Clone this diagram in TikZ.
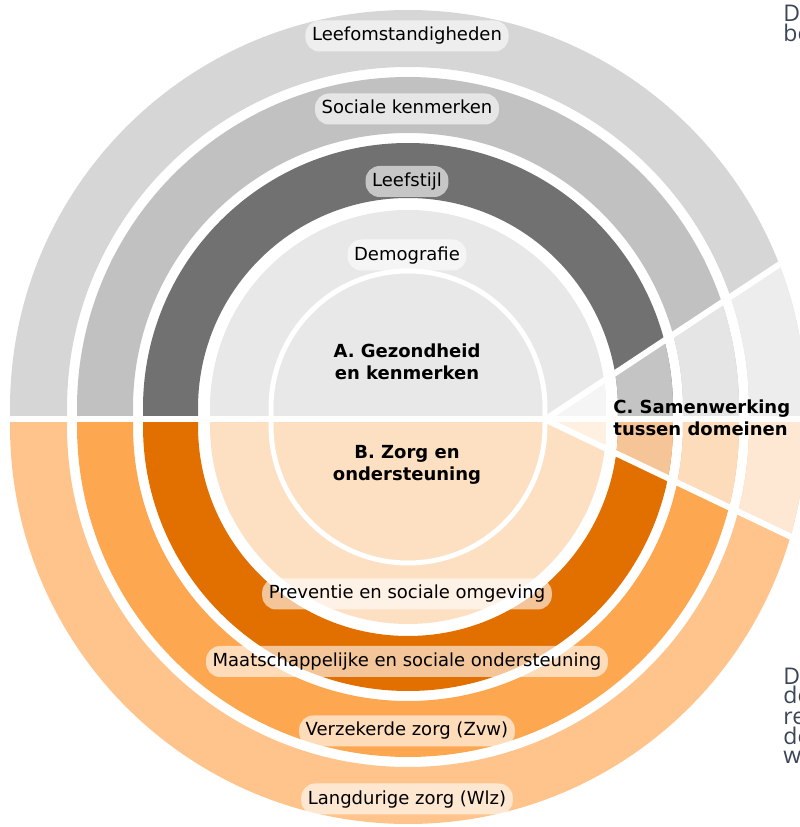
\documentclass[tikz,border=0pt]{standalone}
\usepackage{fontspec}
\setmainfont{DejaVu Sans}
\newfontfamily\sidefont{Open Sans}
\usepackage{xcolor}
% ring colours, normal and inside the C wedge
\definecolor{grayA}{HTML}{D6D6D6}
\definecolor{grayB}{HTML}{C1C1C1}
\definecolor{grayC}{HTML}{717171}
\definecolor{grayD}{HTML}{E8E8E8}
\definecolor{grayAl}{HTML}{EDEDED}
\definecolor{grayBl}{HTML}{E5E5E5}
\definecolor{grayCl}{HTML}{C4C4C4}
\definecolor{grayDl}{HTML}{F5F5F5}
\definecolor{oranA}{HTML}{FEC48C}
\definecolor{oranB}{HTML}{FDA751}
\definecolor{oranC}{HTML}{E27000}
\definecolor{oranD}{HTML}{FDDFC2}
\definecolor{oranAl}{HTML}{FEE8D3}
\definecolor{oranBl}{HTML}{FDDCBC}
\definecolor{oranCl}{HTML}{F5C597}
\definecolor{oranDl}{HTML}{FFF0E2}
\definecolor{sidegray}{HTML}{3B4556}
\tikzset{
    lbl/.style={fill=white, fill opacity=0.6, text opacity=1, rounded corners=7pt,
        inner xsep=3.3pt, inner ysep=0pt, minimum height=15.5pt,
        text height=7pt, text depth=2pt, font=\fontsize{9}{11}\selectfont},
    head/.style={font=\fontsize{9}{11}\selectfont\bfseries, align=center},
    side/.style={font=\sidefont\fontsize{11.5}{10}\selectfont, text=sidegray, align=left, inner sep=0pt},
    gap/.style={white, line width=3pt},
}

\begin{document}
\begin{tikzpicture}[x=0.5pt,y=0.5pt]
    \useasboundingbox (0,0) rectangle (800,827);
    \def\ra{398} \def\rb{341}
    \def\rc{331} \def\rd{275}
    \def\re{265} \def\rf{210}
    \def\rg{198} \def\rh{137}
    \coordinate (CU) at (408,419);
    \coordinate (CL) at (408,401);
    \coordinate (T) at (545,407.5);

    % upper half: A
    \begin{scope}
        \clip (0,411) rectangle (800,827);
        \fill[grayA, even odd rule] (CU) circle (\ra) (CU) circle (\rb);
        \fill[grayB, even odd rule] (CU) circle (\rc) (CU) circle (\rd);
        \fill[grayC, even odd rule] (CU) circle (\re) (CU) circle (\rf);
        \fill[grayD] (CU) circle (\rg);
        \begin{scope}
            \clip (T) -- +(33.5:700) -- +(-25.5:700) -- cycle;
            \fill[grayAl, even odd rule] (CU) circle (\ra) (CU) circle (\rb);
            \fill[grayBl, even odd rule] (CU) circle (\rc) (CU) circle (\rd);
            \fill[grayCl, even odd rule] (CU) circle (\re) (CU) circle (\rf);
            \fill[grayDl, even odd rule] (CU) circle (\rg) (CU) circle (\rh);
        \end{scope}
        \draw[white, line width=2.5pt] (CU) circle (\rh);
    \end{scope}

    % lower half: B
    \begin{scope}
        \clip (0,0) rectangle (800,404);
        \fill[oranA, even odd rule] (CL) circle (\ra) (CL) circle (\rb);
        \fill[oranB, even odd rule] (CL) circle (\rc) (CL) circle (\rd);
        \fill[oranC, even odd rule] (CL) circle (\re) (CL) circle (\rf);
        \fill[oranD] (CL) circle (\rg);
        \begin{scope}
            \clip (T) -- +(33.5:700) -- +(-25.5:700) -- cycle;
            \fill[oranAl, even odd rule] (CL) circle (\ra) (CL) circle (\rb);
            \fill[oranBl, even odd rule] (CL) circle (\rc) (CL) circle (\rd);
            \fill[oranCl, even odd rule] (CL) circle (\re) (CL) circle (\rf);
            \fill[oranDl, even odd rule] (CL) circle (\rg) (CL) circle (\rh);
        \end{scope}
        \draw[white, line width=2.5pt] (CL) circle (\rh);
    \end{scope}

    % wedge C
    \draw[gap] (T) -- +(33.5:330);
    \draw[gap] (T) -- +(-25.5:330);

    \node[lbl] at (407,791) (leef) {Leefomstandigheden};
    \node[lbl] at (407,718) (soc) {Sociale kenmerken};
    \node[lbl] at (407,645.5) (stijl) {Leefstijl};
    \node[lbl] at (407,572) (demo) {Demografie};
    \node[head] at (407,465) (gez) {A. Gezondheid\\en kenmerken};
    \node[head] at (407,362.5) (zorg) {B. Zorg en\\ondersteuning};
    \node[head, align=left, anchor=west, inner xsep=0pt] at (613,409) (samen) {C. Samenwerking\\tussen domeinen};
    \node[lbl] at (407,233) (prev) {Preventie en sociale omgeving};
    \node[lbl] at (407,165.5) (maat) {Maatschappelijke en sociale ondersteuning};
    \node[lbl] at (407,96) (zvw) {Verzekerde zorg (Zvw)};
    \node[lbl] at (407,28) (wlz) {Langdurige zorg (Wlz)};

    % cut-off text at the right edge
    \node[side, anchor=base west] at (783,785.3) (sideA) {D\\be};
    \node[side, anchor=base west] at (783,63) (sideB) {D\\de\\re\\de\\w};
\end{tikzpicture}
\end{document}
